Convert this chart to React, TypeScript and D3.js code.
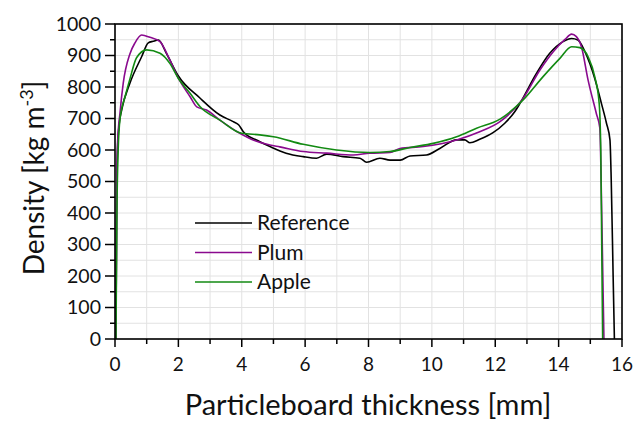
import React from "react";
import * as d3 from "d3";

type Pt = [number, number];

const referenceSeries: Pt[] = [
  [0.03, 0], [0.05, 400], [0.08, 600], [0.13, 680], [0.21, 727], [0.47, 812], [0.84, 896],
  [1.05, 940], [1.2, 945], [1.37, 949], [1.63, 905], [2.0, 835], [2.68, 765], [3.31, 711],
  [3.73, 690], [3.9, 680], [4.05, 658], [4.5, 630], [4.89, 611], [5.4, 590], [5.94, 579],
  [6.36, 574], [6.68, 587], [7.2, 579], [7.73, 574], [7.94, 561], [8.36, 574], [8.68, 568],
  [9.0, 568], [9.31, 581], [9.83, 584], [10.25, 605], [10.78, 632], [11.04, 632], [11.2, 623],
  [11.51, 634], [11.93, 655], [12.3, 685], [12.62, 722], [12.78, 748], [13.3, 843], [13.72, 907],
  [14.14, 944], [14.41, 954], [14.61, 949], [14.83, 912], [15.14, 827], [15.35, 748],
  [15.51, 685], [15.62, 632], [15.66, 505], [15.72, 200], [15.76, 0],
];

const plumSeries: Pt[] = [
  [0.03, 0], [0.05, 400], [0.08, 620], [0.16, 720], [0.26, 812], [0.47, 905], [0.63, 940],
  [0.84, 965], [1.1, 958], [1.42, 944], [1.73, 886], [2.0, 828], [2.37, 769], [2.58, 737],
  [2.89, 727], [3.31, 695], [3.94, 653], [4.4, 630], [4.89, 616], [5.2, 610], [5.94, 595],
  [6.68, 590], [7.52, 584], [8.04, 590], [8.68, 592], [8.99, 605], [9.73, 611], [10.78, 632],
  [11.51, 658], [12.15, 690], [12.88, 764], [13.41, 854], [13.83, 912], [14.2, 951],
  [14.41, 968], [14.56, 960], [14.72, 928], [14.93, 822], [15.19, 716], [15.3, 670],
  [15.36, 400], [15.43, 0],
];

const appleSeries: Pt[] = [
  [0.03, 0], [0.06, 400], [0.1, 600], [0.16, 700], [0.32, 770], [0.47, 825], [0.68, 893],
  [1.0, 918], [1.42, 907], [1.73, 875], [2.0, 827], [2.37, 780], [2.68, 738], [3.31, 695],
  [4.0, 653], [4.57, 648], [5.0, 642], [5.94, 618], [6.99, 600], [8.04, 592], [8.68, 595],
  [9.31, 608], [10.04, 621], [10.78, 642], [11.41, 669], [12.15, 698], [12.88, 759],
  [13.51, 833], [14.04, 891], [14.41, 928], [14.67, 925], [14.93, 896], [15.14, 833],
  [15.28, 748], [15.33, 600], [15.36, 300], [15.39, 0],
];

const seriesNames = ["Reference", "Plum", "Apple"];
const seriesColors = ["#000000", "#8a0a8e", "#128a12"];
const seriesData = [referenceSeries, plumSeries, appleSeries];

const xTicksMajor = [0, 2, 4, 6, 8, 10, 12, 14, 16];
const yTicksMajor = [0, 100, 200, 300, 400, 500, 600, 700, 800, 900, 1000];

const W = 642;
const H = 421;
const L = 115, R = 622, T = 24, B = 339;
const FONT = "Lato, 'Open Sans', sans-serif";

export default function App() {
  const x = d3.scaleLinear().domain([0, 16]).range([L, R]);
  const y = d3.scaleLinear().domain([0, 1000]).range([B, T]);
  const line = d3
    .line<Pt>()
    .x((d) => x(d[0]))
    .y((d) => y(d[1]))
    .curve(d3.curveMonotoneX);

  const xGrid = d3.range(0, 17, 1);
  const yGrid = d3.range(0, 1001, 50);
  const xMinor = d3.range(1, 16, 2);
  const yMinor = d3.range(50, 1000, 100);

  return (
    <svg
      width={W}
      height={H}
      style={{ position: "absolute", left: 0, top: 0, display: "block", background: "#fff" }}
      fontFamily={FONT}
    >
      <rect x={0} y={0} width={W} height={H} fill="#fff" />
      {xGrid.map((v) => (
        <line key={"gx" + v} x1={x(v)} x2={x(v)} y1={T} y2={B} stroke="#e2e2e2" strokeWidth={1} />
      ))}
      {yGrid.map((v) => (
        <line key={"gy" + v} x1={L} x2={R} y1={y(v)} y2={y(v)} stroke="#e2e2e2" strokeWidth={1} />
      ))}
      {seriesData.map((s, i) => (
        <path key={"s" + i} d={line(s) || ""} fill="none" stroke={seriesColors[i]} strokeWidth={1.6} />
      ))}
      <rect x={L} y={T} width={R - L} height={B - T} fill="none" stroke="#000" strokeWidth={1.6} />
      {xTicksMajor.map((v) => (
        <g key={"xt" + v}>
          <line x1={x(v)} x2={x(v)} y1={B} y2={B + 8} stroke="#000" strokeWidth={1.5} />
          <text x={x(v)} y={B + 32} textAnchor="middle" fontSize={19} fill="#111">
            {v}
          </text>
        </g>
      ))}
      {xMinor.map((v) => (
        <line key={"xm" + v} x1={x(v)} x2={x(v)} y1={B} y2={B + 5} stroke="#000" strokeWidth={1.5} />
      ))}
      {yTicksMajor.map((v) => (
        <g key={"yt" + v}>
          <line x1={L - 10} x2={L} y1={y(v)} y2={y(v)} stroke="#000" strokeWidth={1.5} />
          <text x={L - 14} y={y(v)} dy="0.35em" textAnchor="end" fontSize={19.5} fill="#111">
            {v}
          </text>
        </g>
      ))}
      {yMinor.map((v) => (
        <line key={"ym" + v} x1={L - 5} x2={L} y1={y(v)} y2={y(v)} stroke="#000" strokeWidth={1.5} />
      ))}
      <text x={368} y={415} textAnchor="middle" fontSize={29} fill="#111">
        Particleboard thickness [mm]
      </text>
      <text
        transform={`translate(44, 178) rotate(-90)`}
        textAnchor="middle"
        fontSize={28}
        fill="#111"
      >
        Density [kg m
        <tspan dy={-11} fontSize={18}>-3</tspan>
        <tspan dy={11}>]</tspan>
      </text>
      {seriesNames.map((n, i) => {
        const ly = 223 + i * 29.5;
        return (
          <g key={"lg" + i}>
            <line x1={195} x2={252} y1={ly} y2={ly} stroke={seriesColors[i]} strokeWidth={1.6} />
            <text x={257} y={ly} dy="0.35em" fontSize={21} fill="#111">
              {n}
            </text>
          </g>
        );
      })}
    </svg>
  );
}
